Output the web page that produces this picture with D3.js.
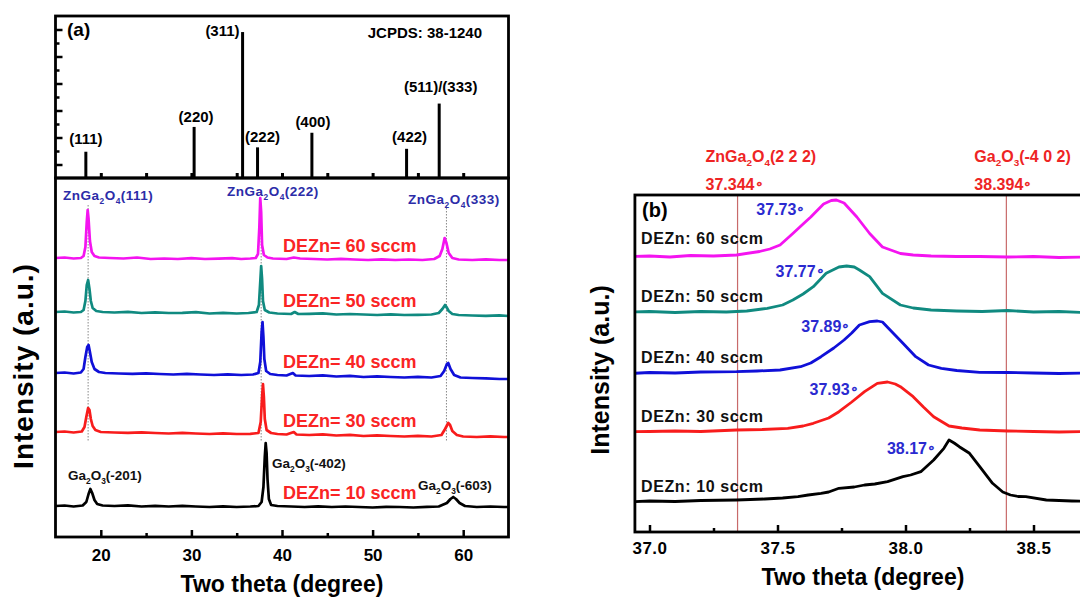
<!DOCTYPE html>
<html>
<head>
<meta charset="utf-8">
<script src="https://cdn.jsdelivr.net/npm/d3@7"></script>
<style>
  html, body { margin: 0; padding: 0; background: #fff; }
  svg { display: block; font-family: "Liberation Sans", Arial, sans-serif; font-weight: bold; }
</style>
</head>
<body>
<svg id="chart" width="1080" height="597"></svg>
<script>
// ---------------- data ----------------
// JCPDS 38-1240 reference pattern (ZnGa2O4): Miller indices, 2θ and relative intensity
const hklLabels = ["(111)", "(220)", "(311)", "(222)", "(400)", "(422)", "(511)/(333)"];
const hklTheta = [18.35, 30.3, 35.65, 37.3, 43.3, 53.75, 57.35];
const hklIntensity = [18, 35, 100, 21, 31, 20, 51];

// Wide-range scans, stacked (2θ, intensity a.u.)
const scanA60 = [[15,279],[16,279.5],[17,278.5],[17.8,279],[18.1,281],[18.3,290],[18.45,315],[18.55,327],[18.65,318],[18.8,296],[19.0,285],[19.3,281],[19.8,279.5],[21,279],[22.5,278.5],[24,279.5],[25.5,278],[27,278.5],[28.5,278],[30,278.8],[31.5,278],[33,278.3],[34.5,278.8],[35.5,278],[36.5,278.5],[37.1,279],[37.35,283],[37.5,310],[37.6,339],[37.7,325],[37.8,292],[38.0,282],[38.4,279.5],[39,278.5],[40.5,278],[41.3,279.5],[42,278.5],[43.5,278],[45,277.5],[46.5,278.2],[48,277.5],[49.5,277],[51,277.6],[52.5,277],[54,277.5],[55.5,277],[56.8,278],[57.4,281],[57.7,288],[57.95,299],[58.15,294],[58.4,284],[58.8,279],[59.5,277.5],[61,277],[62.5,277.6],[64,277],[65,277]];
const scanA50 = [[15,225],[16,225.5],[17,224.5],[17.8,225],[18.1,227],[18.3,236],[18.45,252],[18.6,257],[18.75,248],[18.9,236],[19.1,229],[19.5,226],[20.2,225],[21.5,224.5],[23,225.2],[24.5,224],[26,224.6],[27.5,224],[29,224.2],[30.5,224.8],[32,223.5],[33.5,224.2],[35,223.5],[36.3,224],[37.2,225],[37.45,232],[37.6,255],[37.7,271],[37.8,258],[37.9,236],[38.1,227],[38.6,224.5],[39.5,223.5],[41,223],[41.4,225],[41.8,223],[43,223.2],[44.5,223.6],[46,222.5],[47.5,223],[49,222.5],[50.5,222],[52,222.6],[53.5,222],[55,222.2],[56.5,222.5],[57.3,224],[57.7,228],[58.0,232],[58.15,230],[58.4,226],[58.8,223],[59.5,222],[61,221.5],[62.5,221.2],[64,221.6],[65,221]];
const scanA40 = [[15,164],[16,164.5],[17,163.5],[17.8,164.5],[18.1,168],[18.3,180],[18.5,190],[18.65,192],[18.8,185],[19.0,175],[19.3,168],[19.8,165],[20.5,164],[22,163.5],[23.5,163.2],[25,163.6],[26.5,163],[28,162.5],[29.5,163.2],[31,162.5],[32.5,162],[34,162.6],[35.5,162],[36.8,162.5],[37.4,164],[37.6,175],[37.75,205],[37.85,215],[37.95,200],[38.05,178],[38.25,166],[38.7,163],[39.5,162],[40.5,161.5],[41.2,164],[41.5,161.5],[43,161],[44.5,161.6],[46,160.5],[47.5,161.2],[49,160],[50.5,160.6],[52,160],[53.5,159.5],[55,160.2],[56.5,159.5],[57.5,161],[57.9,166],[58.2,173],[58.35,174],[58.6,168],[59,162],[59.7,159.5],[61,159],[62.5,158.6],[64,158],[65,158]];
const scanA30 = [[15,105],[16,105.5],[17,104.5],[17.9,105.5],[18.2,110],[18.4,120],[18.6,129],[18.75,127],[18.9,118],[19.1,111],[19.4,107],[20,105],[21.5,104.5],[23,104.2],[24.5,104.6],[26,104],[27.5,103.5],[29,104.2],[30.5,103.5],[32,103],[33.5,103.6],[35,103],[36.5,103.2],[37.4,104],[37.65,115],[37.8,140],[37.9,153],[38.0,140],[38.1,118],[38.3,107],[38.8,104],[39.5,103],[40.5,102.5],[41.3,105],[41.6,102.5],[43,102],[44.5,102.6],[46,101.5],[47.5,102.2],[49,101],[50.5,101.6],[52,101],[53.5,100.5],[55,101.2],[56.5,100.5],[57.6,102],[58.0,108],[58.35,114],[58.55,112],[58.8,106],[59.3,102],[60,100.5],[61.5,100],[63,100.6],[64.5,100],[65,100]];
const scanA10 = [[15,31],[16,31.5],[17,30.5],[18,31.5],[18.4,35],[18.65,43],[18.85,48],[19.05,44],[19.3,37],[19.6,33],[20.2,31.5],[21.5,31],[23,31.6],[24.5,30.5],[26,31.2],[27.5,30.5],[29,31.2],[30.5,30.5],[32,30],[33.5,30.6],[35,30],[36.5,30.5],[37.4,31],[37.75,35],[37.95,50],[38.1,80],[38.2,94],[38.3,84],[38.4,58],[38.55,38],[38.8,32],[39.5,31],[41,30.5],[42.5,30],[44,30.6],[45.5,30],[47,30.5],[48.5,30],[50,29.5],[51.5,30.2],[53,30],[54.5,29.5],[56,30.2],[57.3,30.5],[58.2,34],[58.6,38],[58.9,40],[59.2,38],[59.6,34],[60.2,31],[61.5,30],[63,30.5],[64.5,30],[65,30]];

// Narrow scans around the (222) reflection (2θ, intensity a.u.)
const scanB60 = [[36.94,275.5],[37.0,276],[37.08,275],[37.16,276.5],[37.25,276],[37.34,277],[37.43,280.5],[37.47,283],[37.51,287],[37.56,298.5],[37.6,308],[37.63,315],[37.68,328],[37.71,331.5],[37.73,332],[37.76,329],[37.81,315],[37.86,298.5],[37.91,285],[37.98,278.5],[38.03,277],[38.1,276],[38.2,275.5],[38.29,275.5],[38.4,275],[38.5,275.5],[38.6,274.5],[38.7,275],[38.9,274.5]];
const scanB50 = [[36.94,220],[37.0,220.5],[37.1,219.5],[37.2,220.5],[37.3,220],[37.38,221],[37.46,223.7],[37.52,227],[37.56,232],[37.6,238],[37.64,245.3],[37.69,258.7],[37.74,265],[37.77,266],[37.8,265],[37.82,262],[37.86,255.3],[37.91,238.7],[37.98,227],[38.03,224],[38.1,222],[38.2,221],[38.3,220.5],[38.4,221.5],[38.5,220],[38.6,220.5],[38.7,219.5],[38.9,220]];
const scanB40 = [[36.94,158.7],[37.0,159.5],[37.1,159],[37.2,160],[37.34,160.3],[37.42,161],[37.51,162],[37.59,165.3],[37.63,169],[37.67,175.3],[37.72,184],[37.76,192],[37.79,199],[37.82,207],[37.86,210.3],[37.89,211],[37.91,210],[37.94,202],[37.99,188.7],[38.04,175.3],[38.09,167],[38.14,163.7],[38.2,161.5],[38.29,159.7],[38.4,159.5],[38.5,159],[38.6,158.5],[38.7,159],[38.9,158.7]];
const scanB30 = [[36.94,100.3],[37.0,100.5],[37.1,101],[37.2,100.5],[37.34,102],[37.44,102.5],[37.54,103.7],[37.6,106],[37.64,108.7],[37.7,114],[37.74,120.3],[37.79,130],[37.84,140.3],[37.89,148.7],[37.93,150],[37.96,148],[37.98,145.3],[38.03,135.3],[38.07,125],[38.11,115.3],[38.17,106],[38.22,104],[38.29,102],[38.4,101],[38.5,100.5],[38.6,100],[38.7,100.5],[38.9,100.3]];
const scanB10 = [[36.94,30.3],[37.0,31],[37.1,30.5],[37.2,31.5],[37.34,32],[37.45,33],[37.52,34],[37.58,35.3],[37.62,37],[37.67,38.7],[37.7,40],[37.74,43.7],[37.8,45],[37.84,47],[37.88,48],[37.93,50.3],[37.99,55.3],[38.02,57],[38.06,60.3],[38.11,72],[38.15,83.7],[38.17,92],[38.19,89],[38.21,85.3],[38.25,78.7],[38.29,65.3],[38.34,48.7],[38.38,40],[38.41,37],[38.44,35.5],[38.47,35.3],[38.55,32],[38.65,31],[38.75,30.5],[38.9,30.3]];

const flowLabelsA = ["DEZn= 60 sccm", "DEZn= 50 sccm", "DEZn= 40 sccm", "DEZn= 30 sccm", "DEZn= 10 sccm"];
const flowLabelsB = ["DEZn: 60 sccm", "DEZn: 50 sccm", "DEZn: 40 sccm", "DEZn: 30 sccm", "DEZn: 10 sccm"];
const peakLabelsB = ["37.73", "37.77", "37.89", "37.93", "38.17"];

// reference positions for ZnGa2O4 (222) and Ga2O3 (-402)
const refTheta = [37.344, 38.394];
const refNames = ["ZnGa_2O_4(2 2 2)", "Ga_2O_3(-4 0 2)"];

// phase guide lines through the spinel reflections
const guideTheta = [18.6, 37.7, 58.15];

const ticksA = [20, 30, 40, 50, 60];
const minorTicksA = [25, 35, 45, 55];
const ticksB = [37.0, 37.5, 38.0, 38.5];
const minorTicksB = [37.25, 37.75, 38.25];

// ---------------- styles ----------------
const seriesColors = ["#f414f0", "#108a80", "#1010d8", "#f81c1c", "#000000"];
const peakLabelOffset = [[-31, 15], [-22, 11], [-27, 11], [-29, 13], [-13, 14]];
const hklLabelOffset = [[0, -8, "middle"], [2, -5, "middle"], [-3, 4, "end"], [5, -5, "middle"], [1, -6, "middle"], [3, -6.5, "middle"], [1.5, -12, "middle"]];

const scansA = [scanA60, scanA50, scanA40, scanA30, scanA10];
const scansB = [scanB60, scanB50, scanB40, scanB30, scanB10];

// ---------------- helpers ----------------
const svg = d3.select("#chart");
svg.append("rect").attr("width", 1080).attr("height", 597).attr("fill", "#fff");

// text with "_d" marking a subscript digit
function richText(g, x, y, src, fs, fill, anchor) {
  const t = g.append("text").attr("x", x).attr("y", y)
    .attr("font-size", fs).attr("fill", fill).attr("text-anchor", anchor || "start");
  const parts = src.split(/(_\d)/).filter(s => s.length);
  let prevSub = false;
  parts.forEach(p => {
    if (p[0] === "_") {
      t.append("tspan").text(p.slice(1)).attr("font-size", fs * 0.62).attr("dy", fs * 0.28);
      prevSub = true;
    } else {
      const ts = t.append("tspan").text(p);
      if (prevSub) ts.attr("dy", -fs * 0.28);
      prevSub = false;
    }
  });
  return t;
}

// number followed by a small raised ring degree mark
function degreeText(t, value, fs) {
  t.append("tspan").text(value);
  t.append("tspan").text("\u2218").attr("font-size", fs * 0.85).attr("dy", -fs * 0.12);
  return t;
}

function valueAt(data, x) {
  let best = data[0];
  data.forEach(d => { if (Math.abs(d[0] - x) < Math.abs(best[0] - x)) best = d; });
  return best[1];
}

function styleAxis(g, w) {
  g.select(".domain").remove();
  g.selectAll(".tick line").attr("stroke", "#000").attr("stroke-width", w);
  g.selectAll(".tick text").attr("fill", "#000").attr("font-family", null);
}

// ================= panel (a) =================
const xA = d3.scaleLinear().domain([15, 65]).range([55.5, 508.5]);
const yStick = d3.scaleLinear().domain([0, 111]).range([178, 16]);
const yA = d3.scaleLinear().domain([0, 359]).range([537, 178]);

const gA = svg.append("g");

svg.append("defs").append("clipPath").attr("id", "clipA")
  .append("rect").attr("x", xA(15)).attr("y", yA(359)).attr("width", xA(65) - xA(15)).attr("height", yA(0) - yA(359));

// reference sticks
gA.selectAll("line.stick").data(hklTheta).join("line").attr("class", "stick")
  .attr("x1", d => xA(d)).attr("x2", d => xA(d))
  .attr("y1", yStick(0)).attr("y2", (d, i) => yStick(hklIntensity[i]))
  .attr("stroke", "#000").attr("stroke-width", 3);

gA.selectAll("text.hkl").data(hklLabels).join("text").attr("class", "hkl")
  .attr("x", (d, i) => xA(hklTheta[i]) + hklLabelOffset[i][0])
  .attr("y", (d, i) => yStick(hklIntensity[i]) + hklLabelOffset[i][1])
  .attr("text-anchor", (d, i) => hklLabelOffset[i][2])
  .attr("font-size", 15).text(d => d);

gA.append("text").attr("x", 67).attr("y", 36).attr("font-size", 19).text("(a)");
gA.append("text").attr("x", 482).attr("y", 38).attr("font-size", 15).attr("text-anchor", "end").text("JCPDS: 38-1240");

// left ticks of the reference panel
const stickTicks = d3.range(1, 12).map(k => k * 111 / 12);
const axL1 = gA.append("g").attr("transform", `translate(${xA(15)},0)`)
  .call(d3.axisLeft(yStick).tickValues(stickTicks.filter((d, i) => i % 2 === 0)).tickSize(-7).tickFormat(""));
styleAxis(axL1, 2.5);
const axL2 = gA.append("g").attr("transform", `translate(${xA(15)},0)`)
  .call(d3.axisLeft(yStick).tickValues(stickTicks.filter((d, i) => i % 2 === 1)).tickSize(-4).tickFormat(""));
styleAxis(axL2, 2.5);

// ticks on the shared boundary
const axMid = gA.append("g").attr("transform", `translate(0,${yStick(0)})`)
  .call(d3.axisBottom(xA).tickValues(ticksA.concat(minorTicksA)).tickSize(-5).tickFormat(""));
styleAxis(axMid, 3);

// guide lines
gA.selectAll("line.guide").data(guideTheta).join("line").attr("class", "guide")
  .attr("x1", d => xA(d)).attr("x2", d => xA(d))
  .attr("y1", yA(332)).attr("y2", yA(96))
  .attr("stroke", "#888").attr("stroke-width", 1).attr("stroke-dasharray", "1.5,1.5");

// scans
const lineA = d3.line().x(d => xA(d[0])).y(d => yA(d[1]));
gA.append("g").attr("clip-path", "url(#clipA)")
  .selectAll("path").data(scansA).join("path")
  .attr("d", lineA).attr("fill", "none")
  .attr("stroke", (d, i) => seriesColors[i]).attr("stroke-width", 2.7)
  .attr("stroke-linejoin", "round");

// flow-rate labels
gA.selectAll("text.flow").data(flowLabelsA).join("text").attr("class", "flow")
  .attr("x", xA(40.1)).attr("y", (d, i) => yA(valueAt(scansA[i], 40)) - 7)
  .attr("font-size", 18).attr("fill", "#fa2424").text(d => d);

// phase labels
const blueTxt = "#2c2ca8";
richText(gA, 63, 200, "ZnGa_2O_4(111)", 13.5, blueTxt).attr("letter-spacing", 0.5);
richText(gA, 227, 196, "ZnGa_2O_4(222)", 13.5, blueTxt).attr("letter-spacing", 0.5);
richText(gA, 408, 204, "ZnGa_2O_4(333)", 13.5, blueTxt).attr("letter-spacing", 0.5);
richText(gA, 68, 480, "Ga_2O_3(-201)", 13.5, "#111");
richText(gA, 272, 468, "Ga_2O_3(-402)", 13.5, "#111");
richText(gA, 418, 490, "Ga_2O_3(-603)", 13.5, "#111");

// bottom axis
const axA1 = gA.append("g").attr("transform", `translate(0,${yA(0)})`)
  .call(d3.axisBottom(xA).tickValues(ticksA).tickSize(-7).tickPadding(12).tickFormat(d3.format("d")));
styleAxis(axA1, 2.5);
axA1.selectAll(".tick text").attr("font-size", 17);
const axA2 = gA.append("g").attr("transform", `translate(0,${yA(0)})`)
  .call(d3.axisBottom(xA).tickValues(minorTicksA).tickSize(-4).tickFormat(""));
styleAxis(axA2, 2.5);

// frames
gA.append("rect").attr("x", xA(15)).attr("y", yStick(111)).attr("width", xA(65) - xA(15)).attr("height", yStick(0) - yStick(111))
  .attr("fill", "none").attr("stroke", "#000").attr("stroke-width", 2.8);
gA.append("rect").attr("x", xA(15)).attr("y", yA(359)).attr("width", xA(65) - xA(15)).attr("height", yA(0) - yA(359))
  .attr("fill", "none").attr("stroke", "#000").attr("stroke-width", 2.8);

gA.append("text").attr("transform", "translate(33,366) rotate(-90)").attr("text-anchor", "middle")
  .attr("font-size", 28).attr("letter-spacing", 1).text("Intensity (a.u.)");
gA.append("text").attr("x", 282).attr("y", 592).attr("text-anchor", "middle")
  .attr("font-size", 23).text("Two theta (degree)");

// ================= panel (b) =================
const xB = d3.scaleLinear().domain([37.0, 38.5]).range([649.5, 1033.5]);
const yB = d3.scaleLinear().domain([0, 337]).range([532, 195]);
const xB0 = 36.943, xB1 = 38.9;

const gB = svg.append("g");
svg.select("defs").append("clipPath").attr("id", "clipB")
  .append("rect").attr("x", xB(xB0)).attr("y", yB(337)).attr("width", xB(xB1) - xB(xB0)).attr("height", yB(0) - yB(337));

// reference lines
gB.selectAll("line.ref").data(refTheta).join("line").attr("class", "ref")
  .attr("x1", d => xB(d)).attr("x2", d => xB(d))
  .attr("y1", yB(337)).attr("y2", yB(0))
  .attr("stroke", "#c86a6a").attr("stroke-width", 1.2);
refTheta.forEach((d, i) => {
  richText(gB, xB(d) - 32, 162, refNames[i], 16, "#ee2424");
  const t = gB.append("text").attr("x", xB(d) - 32).attr("y", 190).attr("font-size", 16).attr("fill", "#ee2424");
  degreeText(t, d3.format(".3f")(d), 16);
});

// scans
const lineB = d3.line().x(d => xB(d[0])).y(d => yB(d[1]));
gB.append("g").attr("clip-path", "url(#clipB)")
  .selectAll("path").data(scansB).join("path")
  .attr("d", lineB).attr("fill", "none")
  .attr("stroke", (d, i) => seriesColors[i]).attr("stroke-width", 2.8)
  .attr("stroke-linejoin", "round");

// peak position labels
scansB.forEach((s, i) => {
  const top = s.reduce((a, b) => (b[1] > a[1] ? b : a));
  const t = gB.append("text")
    .attr("x", xB(+peakLabelsB[i]) + peakLabelOffset[i][0])
    .attr("y", yB(top[1]) + peakLabelOffset[i][1])
    .attr("text-anchor", "end").attr("font-size", 16).attr("fill", "#2a2ad0");
  degreeText(t, peakLabelsB[i], 16);
});

// flow-rate labels
gB.selectAll("text.flow").data(flowLabelsB).join("text").attr("class", "flow")
  .attr("x", 641).attr("y", (d, i) => yB(scansB[i][0][1]) - (i === 0 ? 13 : 10))
  .attr("font-size", 16).attr("letter-spacing", 0.6).attr("fill", "#111").text(d => d);

gB.append("text").attr("x", 642).attr("y", 217).attr("font-size", 20).text("(b)");

// axis
const axB1 = gB.append("g").attr("transform", `translate(0,${yB(0)})`)
  .call(d3.axisBottom(xB).tickValues(ticksB).tickSize(-7).tickPadding(10).tickFormat(d3.format(".1f")));
styleAxis(axB1, 2.5);
axB1.selectAll(".tick text").attr("font-size", 17).attr("letter-spacing", 0.5);
const axB2 = gB.append("g").attr("transform", `translate(0,${yB(0)})`)
  .call(d3.axisBottom(xB).tickValues(minorTicksB).tickSize(-4).tickFormat(""));
styleAxis(axB2, 2.5);

gB.append("rect").attr("x", xB(xB0)).attr("y", yB(337)).attr("width", xB(xB1) - xB(xB0)).attr("height", yB(0) - yB(337))
  .attr("fill", "none").attr("stroke", "#000").attr("stroke-width", 2.8);

gB.append("text").attr("transform", "translate(609,370) rotate(-90)").attr("text-anchor", "middle")
  .attr("font-size", 25).text("Intensity (a.u.)");
gB.append("text").attr("x", 863).attr("y", 585).attr("text-anchor", "middle")
  .attr("font-size", 23).text("Two theta (degree)");
</script>
</body>
</html>
